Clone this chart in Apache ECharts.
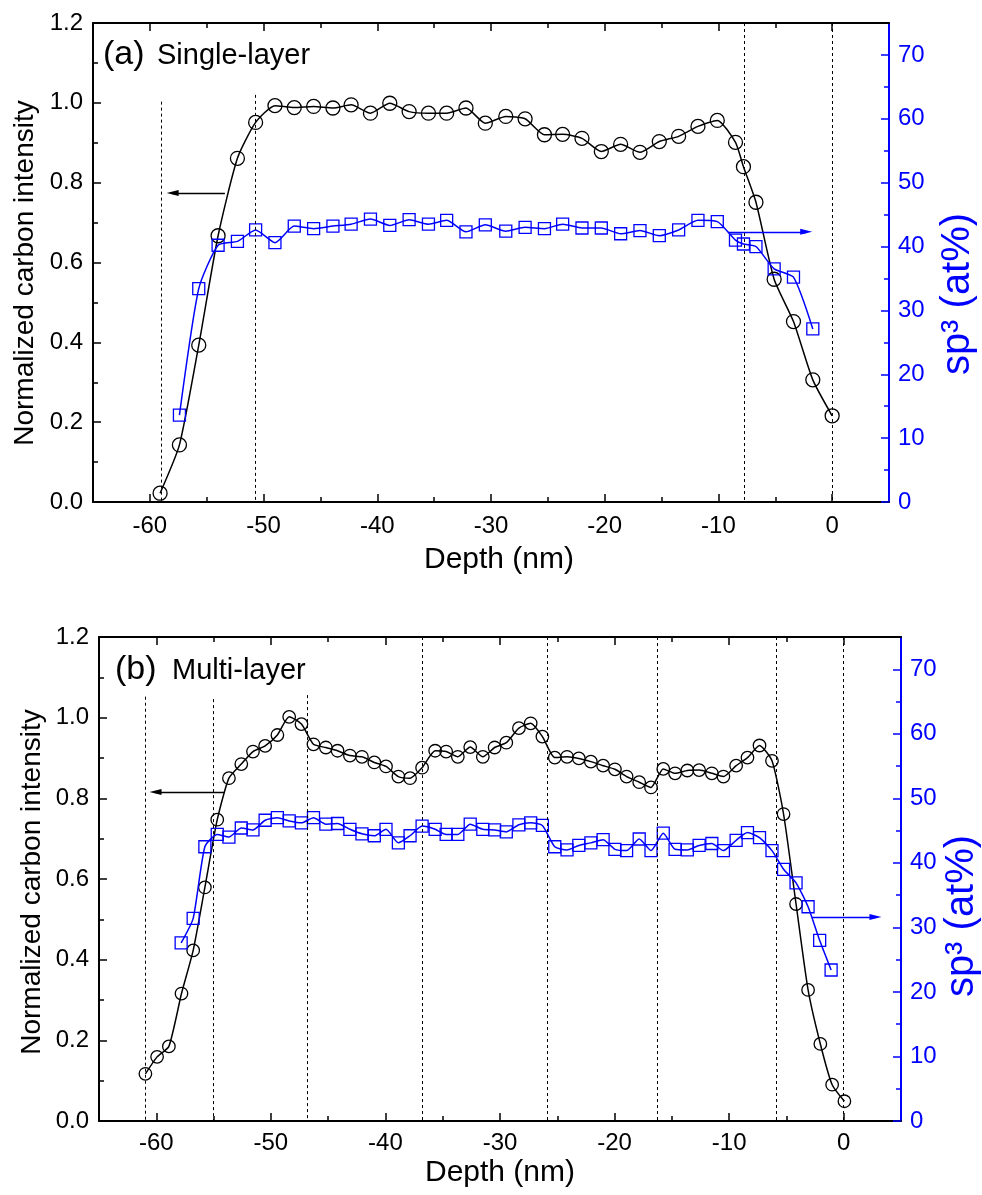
<!DOCTYPE html>
<html><head><meta charset="utf-8">
<script src="https://cdn.jsdelivr.net/npm/echarts@6/dist/echarts.min.js"></script>
<style>html,body{margin:0;padding:0;background:#fff}#c{width:982px;height:1195px}</style>
</head><body><div id="c"></div>
<script>
// ---------- data ----------
const depthA_C = [-59.1,-57.4,-55.7,-54.0,-52.3,-50.7,-49.0,-47.3,-45.6,-43.9,-42.3,-40.6,-38.9,-37.2,-35.5,-33.9,-32.2,-30.5,-28.7,-27.0,-25.3,-23.7,-22.0,-20.3,-18.6,-16.9,-15.2,-13.5,-11.8,-10.1,-8.5,-7.8,-6.7,-5.1,-3.4,-1.7,0.0];
const carbonA = [0.022,0.143,0.393,0.667,0.861,0.951,0.993,0.988,0.991,0.987,0.995,0.974,0.999,0.978,0.974,0.974,0.987,0.949,0.966,0.960,0.920,0.921,0.911,0.878,0.896,0.876,0.903,0.916,0.941,0.956,0.901,0.840,0.751,0.558,0.452,0.306,0.216];
const depthA_S = [-57.4,-55.7,-54.0,-52.3,-50.7,-49.0,-47.3,-45.6,-43.9,-42.3,-40.6,-38.9,-37.2,-35.5,-33.9,-32.2,-30.5,-28.7,-27.0,-25.3,-23.7,-22.0,-20.3,-18.6,-16.9,-15.2,-13.5,-11.8,-10.1,-8.5,-7.8,-6.7,-5.1,-3.4,-1.7];
const sp3A = [13.6,33.4,40.2,40.8,42.6,40.6,43.2,42.8,43.2,43.5,44.3,43.3,44.2,43.5,44.1,42.3,43.4,42.4,43.0,42.8,43.5,42.9,42.9,42.0,42.5,41.7,42.6,44.1,43.9,41.0,40.4,40.0,36.5,35.2,27.1];

const depthB_C = [-60.95,-59.93,-58.9,-57.8,-56.78,-55.76,-54.68,-53.66,-52.58,-51.56,-50.5,-49.43,-48.4,-47.33,-46.28,-45.2,-44.18,-43.1,-42.05,-40.97,-39.95,-38.87,-37.85,-36.8,-35.66,-34.7,-33.68,-32.6,-31.5,-30.47,-29.45,-28.35,-27.32,-26.3,-25.22,-24.15,-23.12,-22.07,-21.0,-19.97,-18.95,-17.85,-16.82,-15.75,-14.72,-13.65,-12.62,-11.51,-10.5,-9.39,-8.4,-7.35,-6.26,-5.25,-4.16,-3.11,-2.04,-1.01,0.06];
const carbonB = [0.117,0.159,0.185,0.316,0.423,0.579,0.747,0.850,0.885,0.916,0.930,0.957,1.002,0.984,0.934,0.926,0.918,0.906,0.903,0.889,0.879,0.854,0.850,0.876,0.918,0.916,0.903,0.927,0.903,0.926,0.938,0.974,0.986,0.953,0.901,0.903,0.899,0.891,0.881,0.872,0.854,0.840,0.827,0.873,0.862,0.869,0.870,0.862,0.854,0.881,0.901,0.931,0.893,0.761,0.538,0.325,0.191,0.090,0.049];
const depthB_S = [-57.83,-56.78,-55.76,-54.68,-53.66,-52.58,-51.56,-50.5,-49.43,-48.4,-47.33,-46.28,-45.2,-44.18,-43.1,-42.05,-40.97,-39.95,-38.87,-37.85,-36.8,-35.66,-34.7,-33.68,-32.6,-31.5,-30.47,-29.45,-28.35,-27.32,-26.3,-25.22,-24.15,-23.12,-22.07,-21.0,-19.97,-18.95,-17.85,-16.82,-15.75,-14.72,-13.65,-12.62,-11.51,-10.5,-9.39,-8.4,-7.35,-6.26,-5.25,-4.16,-3.11,-2.1,-1.1];
const sp3B = [27.6,31.4,42.5,44.4,44.0,45.4,45.1,46.6,47.0,46.5,46.2,47.0,46.0,46.1,45.2,44.5,44.2,45.2,43.1,44.2,45.7,45.2,44.4,44.4,46.0,45.2,45.1,44.8,45.9,46.2,45.8,42.5,42.0,42.7,43.1,43.6,42.1,41.9,43.7,41.9,44.6,42.1,42.0,42.7,43.0,41.9,43.5,44.7,43.9,41.9,39.0,36.9,33.2,28.0,23.4];

// ticks
const xMajorTicks = [-60,-50,-40,-30,-20,-10,0];
const xMinorTicks = [-55,-45,-35,-25,-15,-5];
const yLeftMajor = [0,0.2,0.4,0.6,0.8,1.0,1.2];
const yLeftMinor = [0.1,0.3,0.5,0.7,0.9,1.1];
const yRightMajor = [0,10,20,30,40,50,60,70];
const yRightMinor = [5,15,25,35,45,55,65];

// dashed guide lines: [depth, top value] (partial) and full-height depths
const dashA_partial = [[-59.0,1.003],[-50.7,1.02]];
const dashA_full = [-7.7,0];
const dashB_partial = [[-60.95,1.052],[-55.05,1.046],[-46.86,1.056]];
const dashB_full = [-36.75,-25.86,-16.24,-5.91,0];

// arrows [start, end]
const arrowA_C = [[-53.4,0.774],[-58.0,0.774]];
const arrowA_S = [[-9.17,42.3],[-2.28,42.3]];
const arrowB_C = [[-54.1,0.816],[-60.07,0.816]];
const arrowB_S = [[-2.76,31.6],[2.77,31.6]];

// ---------- chart ----------
const FONT = '"Liberation Sans", Arial, Helvetica, sans-serif';
const BLUE = '#0000ff';
const BLACK = '#000000';
const TICK_FS = 24;

function zip(a,b){ return a.map((v,i)=>[v,b[i]]); }

function xAxesFor(g, labelMargin){
  const base = {type:'value', gridIndex:g, min:-65, max:5, splitLine:{show:false}};
  const tickStyle = {color:BLACK, width:1.5};
  return [
    Object.assign({}, base, {position:'bottom',
      axisLine:{onZero:false, lineStyle:{color:BLACK, width:2}},
      axisTick:{inside:true, length:8, customValues:xMajorTicks, lineStyle:tickStyle},
      axisLabel:{customValues:xMajorTicks, color:BLACK, fontSize:TICK_FS, fontFamily:FONT, margin:labelMargin}}),
    Object.assign({}, base, {position:'bottom',
      axisLine:{show:false, onZero:false},
      axisTick:{inside:true, length:5, customValues:xMinorTicks, lineStyle:tickStyle},
      axisLabel:{show:false}}),
    Object.assign({}, base, {position:'top',
      axisLine:{onZero:false, lineStyle:{color:BLACK, width:2}},
      axisTick:{inside:true, length:8, customValues:xMajorTicks, lineStyle:tickStyle},
      axisLabel:{show:false}}),
    Object.assign({}, base, {position:'top',
      axisLine:{show:false, onZero:false},
      axisTick:{inside:true, length:5, customValues:xMinorTicks, lineStyle:tickStyle},
      axisLabel:{show:false}})
  ];
}
function yAxesFor(g){
  const L = {type:'value', gridIndex:g, min:0, max:1.2, position:'left', splitLine:{show:false}};
  const R = {type:'value', gridIndex:g, min:0, max:75, position:'right', splitLine:{show:false}};
  return [
    Object.assign({}, L, {
      axisLine:{onZero:false, lineStyle:{color:BLACK, width:2}},
      axisTick:{inside:true, length:8, customValues:yLeftMajor, lineStyle:{color:BLACK, width:1.5}},
      axisLabel:{customValues:yLeftMajor, formatter:v=>v.toFixed(1), color:BLACK, fontSize:TICK_FS, fontFamily:FONT, margin:10}}),
    Object.assign({}, R, {
      axisLine:{onZero:false, lineStyle:{color:BLUE, width:2}},
      axisTick:{inside:true, length:8, customValues:yRightMajor, lineStyle:{color:BLUE, width:1.5}},
      axisLabel:{customValues:yRightMajor, color:BLUE, fontSize:TICK_FS, fontFamily:FONT, margin:9}}),
    Object.assign({}, R, {
      axisLine:{show:false, onZero:false},
      axisTick:{inside:true, length:5, customValues:yRightMinor, lineStyle:{color:BLUE, width:1.5}},
      axisLabel:{show:false}}),
    Object.assign({}, L, {
      axisLine:{show:false, onZero:false},
      axisTick:{inside:true, length:5, customValues:yLeftMinor, lineStyle:{color:BLACK, width:1.5}},
      axisLabel:{show:false}})
  ];
}

function dashLines(partial, full){
  const d = [];
  partial.forEach(p=>d.push([{coord:[p[0],p[1]]},{coord:[p[0],0]}]));
  full.forEach(x=>d.push([{coord:[x,1.2]},{coord:[x,0]}]));
  return d;
}
function arrowItem(a, color){
  return [{coord:a[0], symbol:'none', lineStyle:{type:'solid', color:color, width:1.3}},
          {coord:a[1], symbol:'triangle', symbolSize:[6,12], itemStyle:{color:color}}];
}

function seriesFor(g, dC, vC, dS, vS, dashP, dashF, arrC, arrS, symC){
  const xi = g*4, yl = g*4, yr = g*4+1;
  return [
    {type:'line', xAxisIndex:xi, yAxisIndex:yl, data:zip(dC,vC), smooth:0.2,
     symbol:'circle', symbolSize:symC, z:3,
     lineStyle:{color:BLACK, width:1.5},
     itemStyle:{color:'rgba(0,0,0,0)', borderColor:BLACK, borderWidth:1.3},
     markLine:{silent:true, symbol:['none','none'], label:{show:false}, animation:false,
       lineStyle:{type:[3,3], color:BLACK, width:1},
       data: dashLines(dashP, dashF).concat([arrowItem(arrC, BLACK)])}
    },
    {type:'line', xAxisIndex:xi, yAxisIndex:yr, data:zip(dS,vS), smooth:0.2,
     symbol:'rect', symbolSize:12, z:4,
     lineStyle:{color:BLUE, width:1.5},
     itemStyle:{color:'rgba(0,0,0,0)', borderColor:BLUE, borderWidth:1.3},
     markLine:{silent:true, symbol:['none','none'], label:{show:false}, animation:false,
       data:[arrowItem(arrS, BLUE)]}
    }
  ];
}

function txt(text, x, y, size, color){
  return {type:'text', x:x, y:y, silent:true,
    style:{text:text, font:size+'px '+FONT, fill:color, textAlign:'left', textVerticalAlign:'middle'}};
}
function vtxt(text, x, y, size, color){
  return {type:'text', x:x, y:y, rotation:Math.PI/2, silent:true,
    style:{text:text, font:size+'px '+FONT, fill:color, textAlign:'center', textVerticalAlign:'middle'}};
}
function ctxt(text, x, y, size, color){
  return {type:'text', x:x, y:y, silent:true,
    style:{text:text, font:size+'px '+FONT, fill:color, textAlign:'center', textVerticalAlign:'middle'}};
}

const chart = echarts.init(document.getElementById('c'), null, {renderer:'canvas'});
chart.setOption({
  animation:false,
  backgroundColor:'#ffffff',
  grid:[
    {left:93, top:23, width:796, height:479},
    {left:99, top:637, width:802, height:484}
  ],
  xAxis: xAxesFor(0, 12).concat(xAxesFor(1, 10)),
  yAxis: yAxesFor(0).concat(yAxesFor(1)),
  series: seriesFor(0, depthA_C, carbonA, depthA_S, sp3A, dashA_partial, dashA_full, arrowA_C, arrowA_S, 14)
    .concat(seriesFor(1, depthB_C, carbonB, depthB_S, sp3B, dashB_partial, dashB_full, arrowB_C, arrowB_S, 12.5)),
  graphic:[
    txt('(a)', 103, 55, 34, BLACK),
    txt('Single-layer', 157, 56, 29, BLACK),
    txt('(b)', 115, 670, 34, BLACK),
    txt('Multi-layer', 172, 671, 29, BLACK),
    ctxt('Depth (nm)', 499, 560, 30, BLACK),
    ctxt('Depth (nm)', 500, 1173, 30, BLACK),
    vtxt('Normalized carbon intensity', 25, 273, 28, BLACK),
    vtxt('Normalized carbon intensity', 32, 882, 28, BLACK),
    vtxt('sp\u00B3 (at%)', 958, 294, 40, BLUE),
    vtxt('sp\u00B3 (at%)', 962, 916, 40, BLUE)
  ]
});
</script>
</body></html>
